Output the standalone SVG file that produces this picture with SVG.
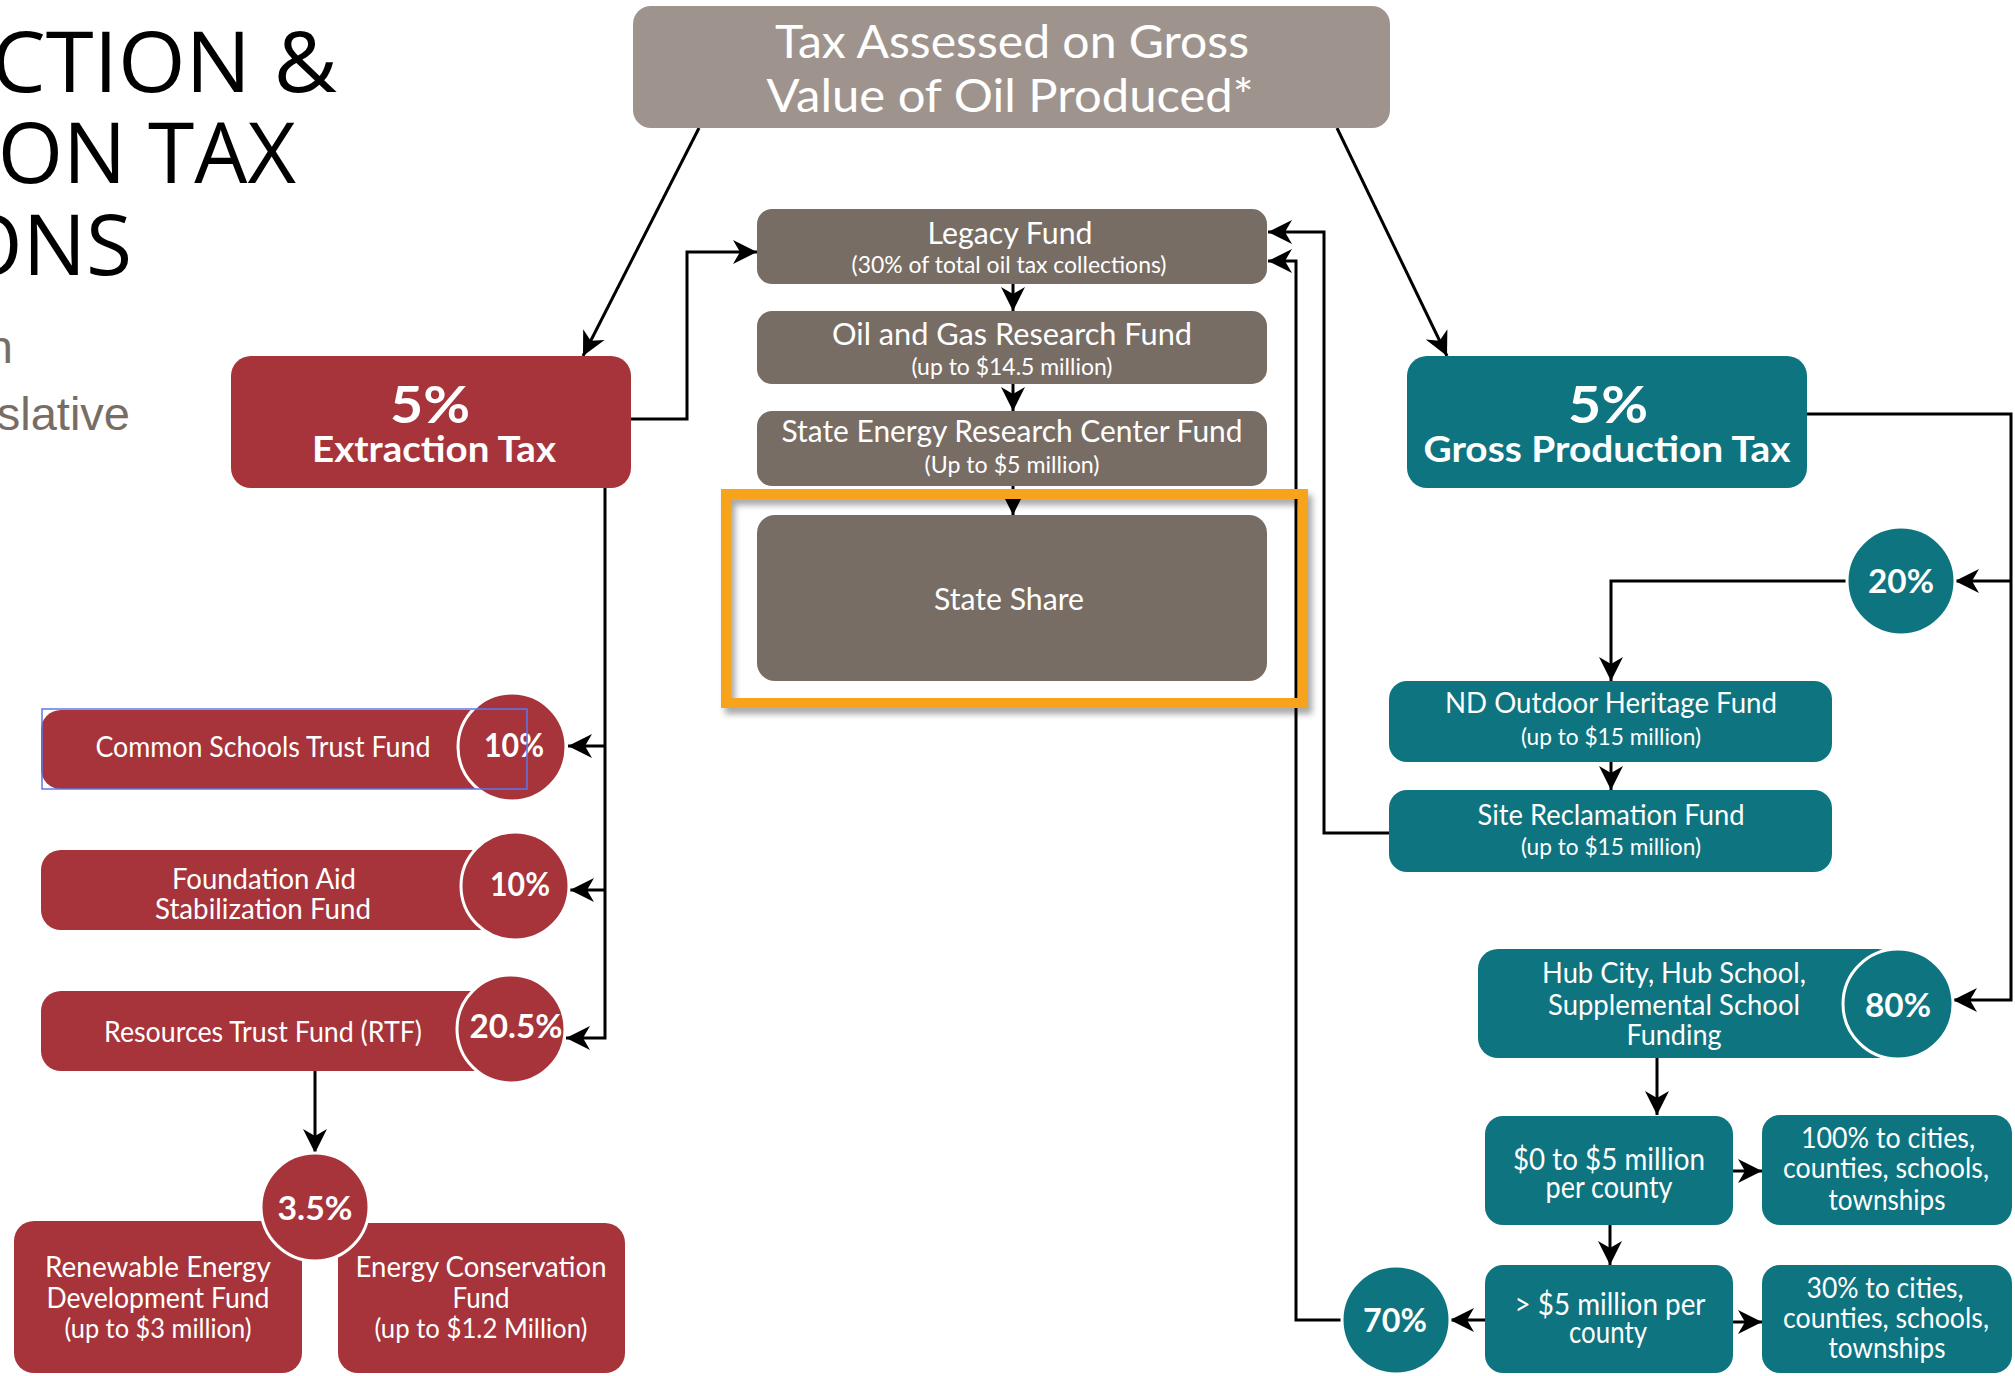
<svg xmlns="http://www.w3.org/2000/svg" width="2015" height="1376" viewBox="0 0 2015 1376">
<defs>
<marker id="ah" markerUnits="userSpaceOnUse" markerWidth="26" markerHeight="26" viewBox="-25 -13 26 26" refX="0" refY="0" orient="auto">
<path d="M0,0 L-24,-12 L-17,0 L-24,12 Z" fill="#000"/>
</marker>
<filter id="sh" x="-5%" y="-5%" width="115%" height="120%">
<feDropShadow dx="4" dy="6" stdDeviation="3" flood-color="#000" flood-opacity="0.35"/>
</filter>
</defs>
<style>
.ln{fill:none;stroke:#000;stroke-width:3}
.ar{marker-end:url(#ah)}
.t{font-family:Lato,"Noto Sans",sans-serif;fill:#fff;text-anchor:middle}
.b{font-weight:700}
.top{fill:#9f948d}
.gr{fill:#786d64}
.rd{fill:#a6343a}
.tl{fill:#0e7480}
.cr{stroke:#fff;stroke-width:3}
.ttl{font-family:"Open Sans","Noto Sans",sans-serif;font-size:84px;fill:#000;text-anchor:end}
.sub{font-family:"Liberation Sans",Arial,sans-serif;font-size:47px;fill:#786d64;text-anchor:end}
</style>
<rect width="2015" height="1376" fill="#fff"/>

<g id="title">
<text class="ttl" x="337" y="92" textLength="346" lengthAdjust="spacingAndGlyphs">CTION &amp;</text>
<text class="ttl" x="296" y="183">ON TAX</text>
<text class="ttl" x="132" y="275">ONS</text>
<text class="sub" x="13" y="363">n</text>
<text class="sub" x="130" y="430">slative</text>
</g>

<g id="connectors">
<path class="ln ar" d="M699,128 L583,356"/>
<path class="ln ar" d="M1337,128 L1447,356"/>
<path class="ln ar" d="M631,419 H687 V252 H757"/>
<path class="ln ar" d="M1013,284 V311"/>
<path class="ln ar" d="M1013,384 V411"/>
<path class="ln ar" d="M1013,486 V515"/>
<path class="ln ar" d="M605,488 V1038 H566"/>
<path class="ln ar" d="M605,746 H568"/>
<path class="ln ar" d="M605,890 H570"/>
<path class="ln ar" d="M315,1071 V1153"/>
<path class="ln ar" d="M1807,414 H2011 V1000 H1953"/>
<path class="ln ar" d="M2011,581 H1955"/>
<path class="ln ar" d="M1848,581 H1611 V681"/>
<path class="ln ar" d="M1611,762 V790"/>
<path class="ln ar" d="M1389,833 H1324 V232 H1268"/>
<path class="ln ar" d="M1343,1320 H1296 V261 H1268"/>
<path class="ln ar" d="M1657,1058 V1115"/>
<path class="ln ar" d="M1733,1171 H1762"/>
<path class="ln ar" d="M1610,1225 V1265"/>
<path class="ln ar" d="M1733,1322 H1762"/>
<path class="ln ar" d="M1485,1320 H1450"/>
</g>

<g id="tax-assessed">
<rect class="top" x="633" y="6" width="757" height="122" rx="18"/>
<text class="t" x="1012" y="58" font-size="46" textLength="474" lengthAdjust="spacingAndGlyphs">Tax Assessed on Gross</text>
<text class="t" x="1010" y="112" font-size="46" textLength="487" lengthAdjust="spacingAndGlyphs">Value of Oil Produced*</text>
</g>

<g id="legacy-fund">
<rect class="gr" x="757" y="209" width="510" height="75" rx="15"/>
<text class="t" x="1010" y="244" font-size="30" textLength="165" lengthAdjust="spacingAndGlyphs">Legacy Fund</text>
<text class="t" x="1009" y="273" font-size="23" textLength="315" lengthAdjust="spacingAndGlyphs">(30% of total oil tax collections)</text>
</g>

<g id="oil-gas-research">
<rect class="gr" x="757" y="311" width="510" height="73" rx="15"/>
<text class="t" x="1012" y="345" font-size="30" textLength="360" lengthAdjust="spacingAndGlyphs">Oil and Gas Research Fund</text>
<text class="t" x="1012" y="375" font-size="23" textLength="201" lengthAdjust="spacingAndGlyphs">(up to $14.5 million)</text>
</g>

<g id="state-energy-research">
<rect class="gr" x="757" y="411" width="510" height="75" rx="15"/>
<text class="t" x="1012" y="442" font-size="30" textLength="461" lengthAdjust="spacingAndGlyphs">State Energy Research Center Fund</text>
<text class="t" x="1012" y="473" font-size="23" textLength="175" lengthAdjust="spacingAndGlyphs">(Up to $5 million)</text>
</g>

<g id="state-share">
<rect class="gr" x="757" y="515" width="510" height="166" rx="18"/>
<text class="t" x="1009" y="610" font-size="31" textLength="150" lengthAdjust="spacingAndGlyphs">State Share</text>
</g>

<g id="highlight">
<rect x="726" y="494" width="577" height="209" fill="none" stroke="#f7a31c" stroke-width="10" filter="url(#sh)"/>
</g>

<g id="extraction-tax">
<rect class="rd" x="231" y="356" width="400" height="132" rx="20"/>
<text class="t b" x="430" y="423" font-size="52" textLength="80" lengthAdjust="spacingAndGlyphs">5%</text>
<text class="t b" x="434" y="462" font-size="36" textLength="244" lengthAdjust="spacingAndGlyphs">Extraction Tax</text>
</g>

<g id="gross-production-tax">
<rect class="tl" x="1407" y="356" width="400" height="132" rx="20"/>
<text class="t b" x="1608" y="423" font-size="52" textLength="80" lengthAdjust="spacingAndGlyphs">5%</text>
<text class="t b" x="1607" y="462" font-size="36" textLength="367" lengthAdjust="spacingAndGlyphs">Gross Production Tax</text>
</g>

<g id="common-schools">
<rect class="rd" x="41" y="710" width="471" height="79" rx="20"/>
<circle class="rd cr" cx="512" cy="747" r="54"/>
<text class="t" x="263" y="757" font-size="29" textLength="335" lengthAdjust="spacingAndGlyphs">Common Schools Trust Fund</text>
<text class="t b" x="514" y="757" font-size="32" textLength="60" lengthAdjust="spacingAndGlyphs">10%</text>
<rect x="42" y="709" width="485" height="80" fill="none" stroke="#5b78f0" stroke-width="1.5"/>
</g>

<g id="foundation-aid">
<rect class="rd" x="41" y="850" width="474" height="80" rx="20"/>
<circle class="rd cr" cx="515" cy="886" r="54"/>
<text class="t" x="264" y="889" font-size="29" textLength="184" lengthAdjust="spacingAndGlyphs">Foundation Aid</text>
<text class="t" x="263" y="919" font-size="29" textLength="216" lengthAdjust="spacingAndGlyphs">Stabilization Fund</text>
<text class="t b" x="520" y="896" font-size="32" textLength="60" lengthAdjust="spacingAndGlyphs">10%</text>
</g>

<g id="resources-trust">
<rect class="rd" x="41" y="991" width="470" height="80" rx="20"/>
<circle class="rd cr" cx="511" cy="1029" r="54"/>
<text class="t" x="263" y="1042" font-size="29" textLength="318" lengthAdjust="spacingAndGlyphs">Resources Trust Fund (RTF)</text>
<text class="t b" x="516" y="1038" font-size="32" textLength="93" lengthAdjust="spacingAndGlyphs">20.5%</text>
</g>

<g id="renewable-energy">
<rect class="rd" x="14" y="1221" width="288" height="152" rx="20"/>
<text class="t" x="158" y="1277" font-size="29" textLength="226" lengthAdjust="spacingAndGlyphs">Renewable Energy</text>
<text class="t" x="158" y="1308" font-size="29" textLength="223" lengthAdjust="spacingAndGlyphs">Development Fund</text>
<text class="t" x="158" y="1338" font-size="27" textLength="187" lengthAdjust="spacingAndGlyphs">(up to $3 million)</text>
</g>

<g id="energy-conservation">
<rect class="rd" x="338" y="1223" width="287" height="150" rx="20"/>
<text class="t" x="481" y="1277" font-size="29" textLength="251" lengthAdjust="spacingAndGlyphs">Energy Conservation</text>
<text class="t" x="481" y="1308" font-size="29" textLength="57" lengthAdjust="spacingAndGlyphs">Fund</text>
<text class="t" x="481" y="1338" font-size="27" textLength="213" lengthAdjust="spacingAndGlyphs">(up to $1.2 Million)</text>
</g>

<g id="pct-3-5">
<circle class="rd cr" cx="315" cy="1207" r="54"/>
<text class="t b" x="315" y="1220" font-size="32" textLength="75" lengthAdjust="spacingAndGlyphs">3.5%</text>
</g>

<g id="pct-20">
<circle class="tl cr" cx="1901" cy="581" r="54"/>
<text class="t b" x="1901" y="593" font-size="32" textLength="66" lengthAdjust="spacingAndGlyphs">20%</text>
</g>

<g id="nd-outdoor">
<rect class="tl" x="1389" y="681" width="443" height="81" rx="18"/>
<text class="t" x="1611" y="713" font-size="29" textLength="332" lengthAdjust="spacingAndGlyphs">ND Outdoor Heritage Fund</text>
<text class="t" x="1611" y="745" font-size="23" textLength="180" lengthAdjust="spacingAndGlyphs">(up to $15 million)</text>
</g>

<g id="site-reclamation">
<rect class="tl" x="1389" y="790" width="443" height="82" rx="18"/>
<text class="t" x="1611" y="825" font-size="29" textLength="267" lengthAdjust="spacingAndGlyphs">Site Reclamation Fund</text>
<text class="t" x="1611" y="855" font-size="23" textLength="180" lengthAdjust="spacingAndGlyphs">(up to $15 million)</text>
</g>

<g id="hub-funding">
<rect class="tl" x="1478" y="949" width="420" height="109" rx="20"/>
<circle class="tl cr" cx="1898" cy="1004" r="55"/>
<text class="t" x="1674" y="983" font-size="29" textLength="264" lengthAdjust="spacingAndGlyphs">Hub City, Hub School,</text>
<text class="t" x="1674" y="1015" font-size="29" textLength="252" lengthAdjust="spacingAndGlyphs">Supplemental School</text>
<text class="t" x="1674" y="1045" font-size="29" textLength="95" lengthAdjust="spacingAndGlyphs">Funding</text>
<text class="t b" x="1898" y="1017" font-size="33" textLength="66" lengthAdjust="spacingAndGlyphs">80%</text>
</g>

<g id="zero-to-five">
<rect class="tl" x="1485" y="1116" width="248" height="109" rx="18"/>
<text class="t" x="1609" y="1170" font-size="30" textLength="192" lengthAdjust="spacingAndGlyphs">$0 to $5 million</text>
<text class="t" x="1609" y="1198" font-size="30" textLength="127" lengthAdjust="spacingAndGlyphs">per county</text>
</g>

<g id="hundred-pct">
<rect class="tl" x="1762" y="1115" width="250" height="110" rx="18"/>
<text class="t" x="1888" y="1148" font-size="29" textLength="174" lengthAdjust="spacingAndGlyphs">100% to cities,</text>
<text class="t" x="1886" y="1178" font-size="29" textLength="206" lengthAdjust="spacingAndGlyphs">counties, schools,</text>
<text class="t" x="1887" y="1210" font-size="29" textLength="117" lengthAdjust="spacingAndGlyphs">townships</text>
</g>

<g id="over-five">
<rect class="tl" x="1485" y="1265" width="248" height="108" rx="18"/>
<text class="t" x="1610" y="1315" font-size="30" textLength="191" lengthAdjust="spacingAndGlyphs">&gt; $5 million per</text>
<text class="t" x="1608" y="1343" font-size="30" textLength="78" lengthAdjust="spacingAndGlyphs">county</text>
</g>

<g id="thirty-pct">
<rect class="tl" x="1762" y="1265" width="250" height="108" rx="18"/>
<text class="t" x="1885" y="1298" font-size="29" textLength="157" lengthAdjust="spacingAndGlyphs">30% to cities,</text>
<text class="t" x="1886" y="1328" font-size="29" textLength="206" lengthAdjust="spacingAndGlyphs">counties, schools,</text>
<text class="t" x="1887" y="1358" font-size="29" textLength="117" lengthAdjust="spacingAndGlyphs">townships</text>
</g>

<g id="pct-70">
<circle class="tl cr" cx="1396" cy="1320" r="54"/>
<text class="t b" x="1395" y="1332" font-size="32" textLength="64" lengthAdjust="spacingAndGlyphs">70%</text>
</g>
</svg>
